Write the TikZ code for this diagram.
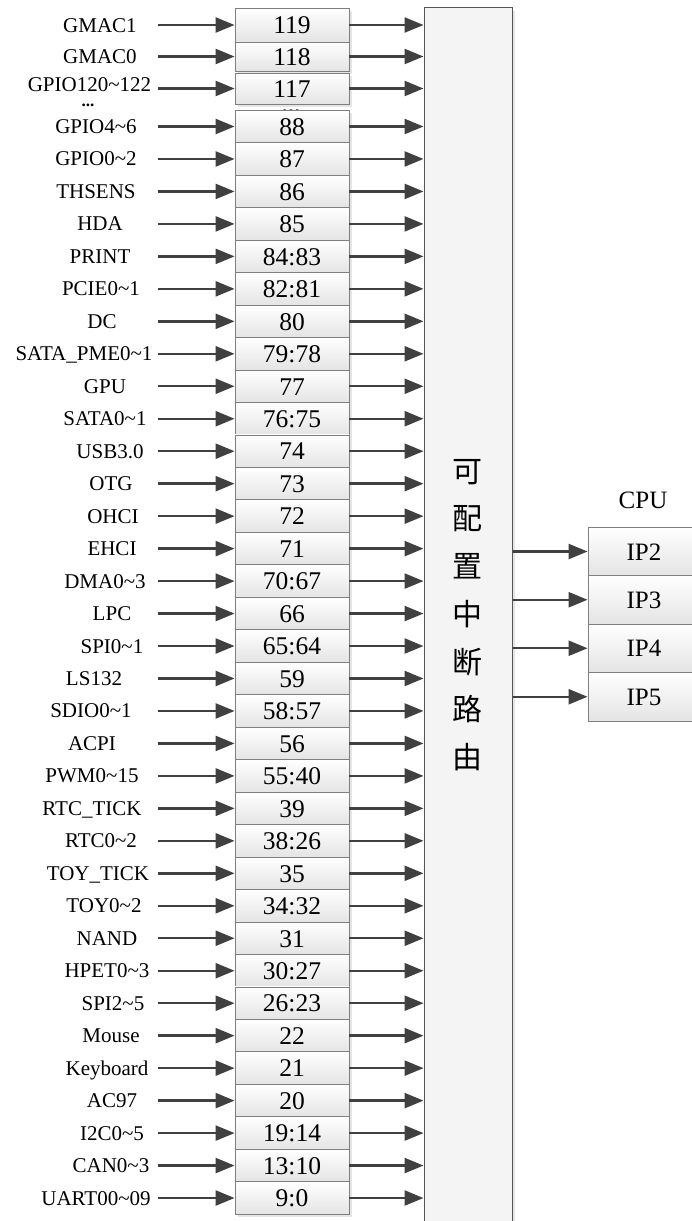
\documentclass[tikz,border=0pt]{standalone}
\usepackage{fontspec}
\setmainfont{Liberation Serif}
\newfontfamily\cjkfont{Noto Sans CJK SC}
\usetikzlibrary{arrows.meta,shadows}
\definecolor{arrc}{HTML}{404040}
\definecolor{boxline}{HTML}{7F7F7F}
\definecolor{boxbot}{HTML}{E4E4E4}
\definecolor{bigfill}{HTML}{F4F4F4}
\definecolor{bigline}{HTML}{555555}
\newcommand\tld{\textasciitilde}
\begin{document}
\begin{tikzpicture}[x=1pt,y=-1pt,
  arr/.style={draw=arrc, line width=2.4pt, -{Triangle[length=19pt,width=15pt]}},
  numbox/.style={draw=boxline, line width=0.9pt, top color=white, bottom color=boxbot,
    minimum width=114pt, inner sep=0pt, text height=17.5pt, text depth=0pt,
    font=\fontsize{25.5}{26}\selectfont,
    general shadow={fill=black!10, shadow xshift=3pt, shadow yshift=-3pt}},
  lab/.style={inner sep=0pt, text height=14pt, text depth=0pt, font=\fontsize{21}{22}\selectfont},
  bigbox/.style={draw=bigline, line width=1pt, fill=bigfill,
    general shadow={fill=black!10, shadow xshift=3pt, shadow yshift=-3pt}},
  cpubox/.style={draw=boxline, line width=0.9pt, top color=white, bottom color=boxbot,
    minimum width=112pt, minimum height=48.5pt, inner sep=0pt, text height=17pt, text depth=0pt,
    font=\fontsize{25}{26}\selectfont}
]
\useasboundingbox (0,0) rectangle (692,1221);
\clip (0,0) rectangle (692,1221);
\fill[white] (0,0) rectangle (692,1221);

% routing block
\node[bigbox, minimum width=88pt, minimum height=1232.5pt] (R) at (468,623.75) {};
\node[font=\cjkfont\fontsize{30}{47.7}\selectfont, align=center, inner sep=0pt] (rt) at (467,615)
  {可\\配\\置\\中\\断\\路\\由};

% top rows
\node[numbox, minimum height=34pt] (t1) at (292,25) {119};
\node[numbox, minimum height=29pt] (t2) at (292,56.5) {118};
\node[numbox, minimum height=31pt] (t3) at (292,88.5) {117};
\node[lab] (tl1) at (100,25) {GMAC1};
\node[lab] (tl2) at (100,56.5) {GMAC0};
\node[lab] (tl3) at (89.5,84) {GPIO120\tld122};
\foreach \i in {1,2,3}{
  \draw[arr] ([xshift=-77pt]t\i.west) -- (t\i.west);
  \draw[arr] (t\i.east) -- (t\i.east -| R.west);
}
\node[anchor=base, inner sep=0pt, font=\bfseries\fontsize{25}{26}\selectfont] (dm) at (291,113) {...};
\node[anchor=base, inner sep=0pt, font=\bfseries\fontsize{17}{18}\selectfont] (dl) at (88,106) {...};

% remaining rows
\foreach \lab/\num/\lx [count=\k from 0] in {
  GPIO4\tld6/88/96, GPIO0\tld2/87/96, THSENS/86/96, HDA/85/100, PRINT/84:83/100,
  PCIE0\tld1/82:81/101, DC/80/102, SATA\_PME0\tld1/79:78/84, GPU/77/105,
  SATA0\tld1/76:75/105, USB3.0/74/110, OTG/73/111, OHCI/72/113, EHCI/71/112,
  DMA0\tld3/70:67/105, LPC/66/112, SPI0\tld1/65:64/112, LS132/59/94,
  SDIO0\tld1/58:57/91, ACPI/56/92, PWM0\tld15/55:40/92, RTC\_TICK/39/92,
  RTC0\tld2/38:26/101, TOY\_TICK/35/98, TOY0\tld2/34:32/104, NAND/31/107,
  HPET0\tld3/30:27/107, SPI2\tld5/26:23/113, Mouse/22/111, Keyboard/21/107,
  AC97/20/112, I2C0\tld5/19:14/112, CAN0\tld3/13:10/111, UART00\tld09/9:0/96}{
  \pgfmathsetmacro\yy{126.5+32.47*\k}
  \node[numbox, minimum height=32.47pt] (b\k) at (292,\yy) {\num};
  \node[lab] (l\k) at (\lx,\yy) {\lab};
  \draw[arr] ([xshift=-77pt]b\k.west) -- (b\k.west);
  \draw[arr] (b\k.east) -- (b\k.east -| R.west);
}

% CPU
\node[font=\fontsize{25}{26}\selectfont, inner sep=0pt] (cpu) at (643,500) {CPU};
\node[cpubox] (ip2) at (644,551.5) {IP2};
\node[cpubox] (ip3) at (644,599.75) {IP3};
\node[cpubox] (ip4) at (644,648.25) {IP4};
\node[cpubox] (ip5) at (644,696.75) {IP5};
\foreach \n in {ip2,ip3,ip4,ip5}{
  \draw[arr] (R.east |- \n.west) -- (\n.west);
}
\end{tikzpicture}
\end{document}
